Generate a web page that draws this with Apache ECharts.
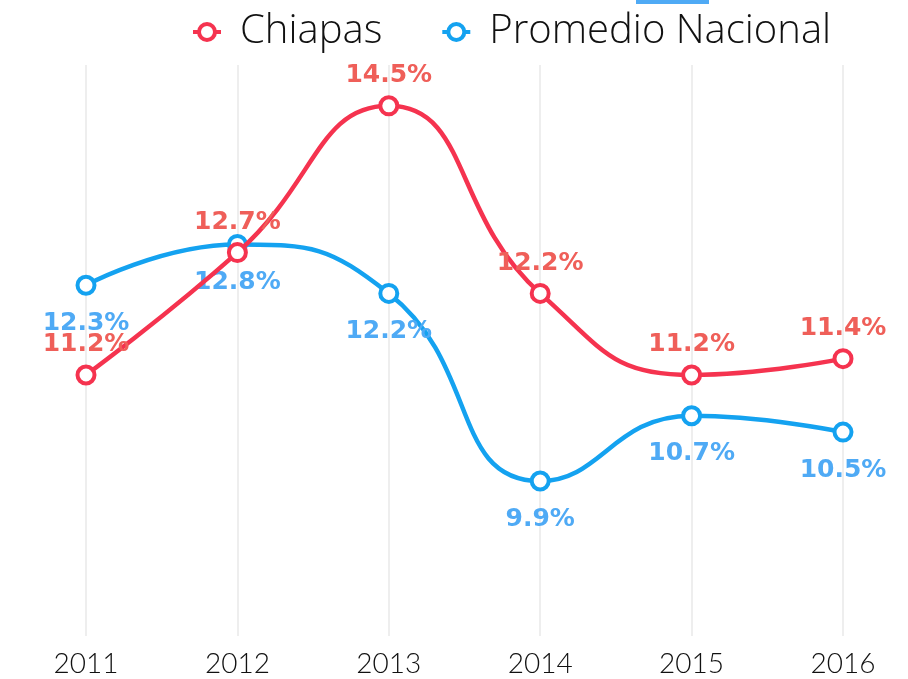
<!DOCTYPE html>
<html>
<head>
<meta charset="utf-8">
<script src="https://cdn.jsdelivr.net/npm/echarts@6/dist/echarts.min.js"></script>
<style>
  html, body { margin: 0; padding: 0; background: #fff; }
  #main { width: 908px; height: 679px; }
</style>
</head>
<body>
<div id="main"></div>
<script>
var years = ['2011', '2012', '2013', '2014', '2015', '2016'];
var chiapas = [11.2, 12.7, 14.5, 12.2, 11.2, 11.4];
var nacional = [12.3, 12.8, 12.2, 9.9, 10.7, 10.5];

var myChart = echarts.init(document.getElementById('main'));

// etiqueta en negrita con el porcentaje
function etiqueta(pos, color, dist) {
    return {
        show: true,
        position: pos,
        distance: dist,
        formatter: function (p) { return p.value.toFixed(1) + '%'; },
        fontFamily: 'DejaVu Sans',
        fontWeight: 'bold',
        fontSize: 25,
        color: color
    };
}

var option = {
    backgroundColor: '#fff',
    animation: false,
    graphic: [{
        type: 'rect',
        shape: { x: 636, y: 0, width: 73, height: 4 },
        style: { fill: '#4faaf5' }
    }],
    legend: {
        left: 186,
        top: 7,
        itemGap: 58,
        itemWidth: 28,
        itemHeight: 20,
        itemStyle: { borderWidth: 4 },
        lineStyle: { width: 4 },
        textStyle: {
            fontFamily: 'Open Sans',
            fontWeight: 300,
            fontSize: 40,
            color: '#111',
            padding: [0, 0, 0, 14]
        },
        data: ['Chiapas', 'Promedio Nacional']
    },
    grid: {
        left: 86,
        right: 65,
        top: 65,
        bottom: 43
    },
    xAxis: {
        type: 'category',
        boundaryGap: false,
        data: years,
        axisLine: { show: false },
        axisTick: { show: false },
        axisLabel: {
            margin: 14,
            fontFamily: 'Lato',
            fontWeight: 300,
            fontSize: 28,
            color: '#111'
        },
        splitLine: { show: true, lineStyle: { color: '#e8e8e8', width: 1.5 } }
    },
    yAxis: {
        type: 'value',
        min: 8,
        max: 15,
        show: false
    },
    series: [{
        name: 'Chiapas',
        type: 'line',
        smooth: true,
        data: chiapas,
        symbol: 'circle',
        symbolSize: 17,
        z: 3,
        lineStyle: { color: '#f5334f', width: 4.5 },
        itemStyle: { color: '#fff', borderColor: '#f5334f', borderWidth: 4 },
        label: etiqueta('top', '#ef5f59', 7)
    }, {
        name: 'Promedio Nacional',
        type: 'line',
        smooth: true,
        data: nacional,
        symbol: 'circle',
        symbolSize: 17,
        z: 2,
        lineStyle: { color: '#14a2f0', width: 4.5 },
        itemStyle: { color: '#fff', borderColor: '#14a2f0', borderWidth: 4 },
        label: etiqueta('bottom', '#4faaf5', 15)
    }]
};

myChart.setOption(option);
</script>
</body>
</html>
